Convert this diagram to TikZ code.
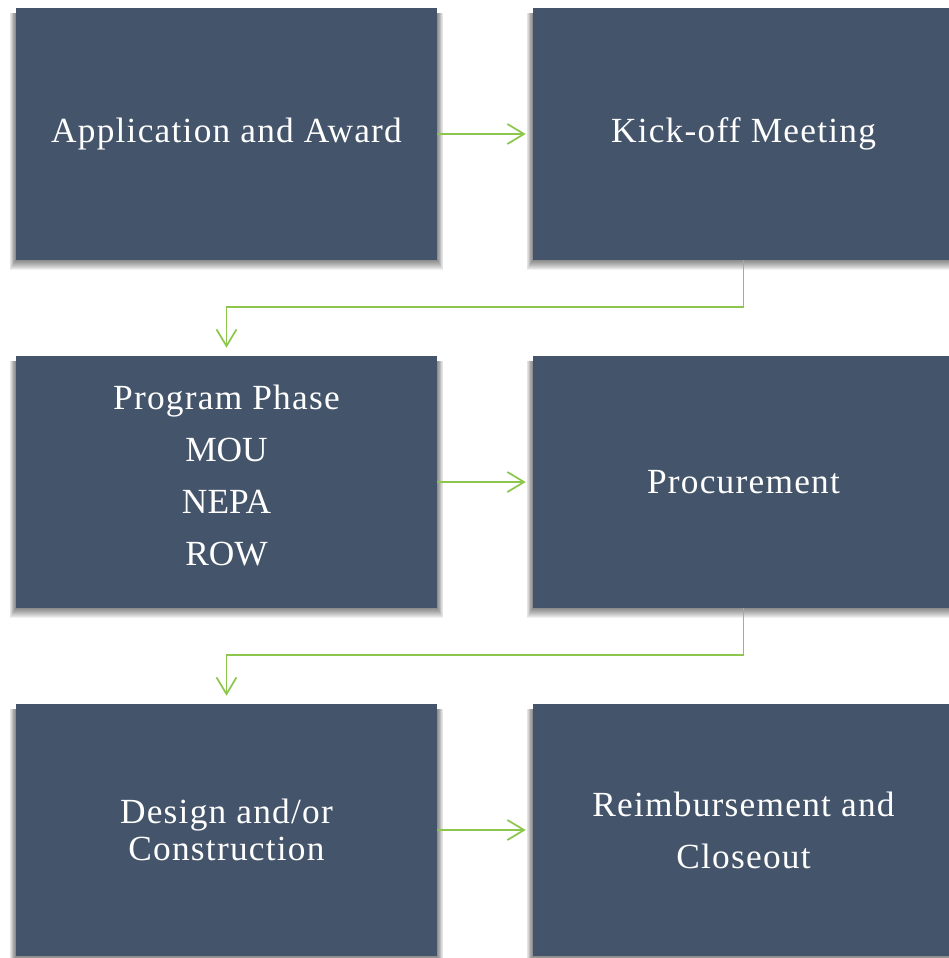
\documentclass[tikz,border=0pt]{standalone}
\usepackage{fontspec}
\setmainfont{Liberation Serif}
\newfontfamily\spaced[LetterSpace=3.5]{Liberation Serif}
\usetikzlibrary{arrows.meta,backgrounds}
\definecolor{boxblue}{HTML}{44546A}
\definecolor{linkgreen}{RGB}{141,198,76}
\begin{document}
\begin{tikzpicture}[x=0.75pt,y=-0.75pt,
  stage/.style={fill=boxblue, draw=none, minimum width=315.75pt,
    minimum height=189pt, inner sep=0pt, text=white, align=center,
    font=\spaced\fontsize{26.5}{39}\selectfont},
  link/.style={draw=linkgreen, line width=1.3pt,
    -{Straight Barb[length=12.5pt,width=15pt,line width=1.3pt]}},
  shade step/.style={fill=black, opacity=0.055}
]
\useasboundingbox (0,0) rectangle (949,958);

% process stages, two per row
\node[stage] (A) at (226.5,134) {Application and Award};
\node[stage] (B) at (743.5,134) {Kick-off Meeting};
\node[stage, text depth=10pt] (C) at (226.5,482) {Program Phase\\{\normalfont MOU}\\{\normalfont NEPA}\\{\normalfont ROW}};
\node[stage] (D) at (743.5,482) {Procurement};
\node[stage, font=\spaced\fontsize{26.5}{28}\selectfont] (E) at (226.5,830) {Design and/or\\Construction};
\node[stage] (F) at (743.5,830) {Reimbursement and\\Closeout};

% white page and soft drop shadows behind the stages
\begin{scope}[on background layer]
  \fill[white] (0,0) rectangle (949,958);
  \foreach \n in {A,B,C,D,E,F}
    \foreach \r in {1,...,10}
      \fill[shade step] ([shift={(-0.45*\r pt,-0.75*\r pt)}]\n.south west)
        rectangle ([shift={(0.45*\r pt,-4pt)}]\n.north east);
\end{scope}

% connectors within a row
\draw[link, shorten >=5.25pt] (A.east) -- (B.west);
\draw[link, shorten >=5.25pt] (C.east) -- (D.west);
\draw[link, shorten >=5.25pt] (E.east) -- (F.west);

% connectors wrapping to the next row
\draw[link, shorten >=6pt] (B.south) -- ++(0,47) -| (C.north);
\draw[link, shorten >=6pt] (D.south) -- ++(0,47) -| (E.north);
\end{tikzpicture}
\end{document}
